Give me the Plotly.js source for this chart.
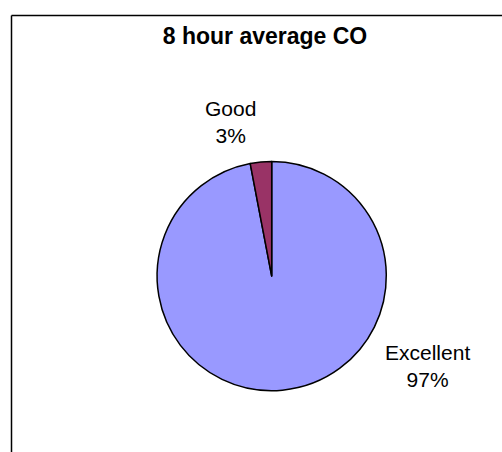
<!DOCTYPE html>
<html>
<head>
<meta charset="utf-8">
<script src="https://cdn.plot.ly/plotly-3.0.1.min.js"></script>
<style>html,body{margin:0;padding:0;background:#fff;}#chart{width:502px;height:452px;}</style>
</head>
<body>
<div id="chart"></div>
<script>
const chartTitle = "8 hour average CO";
const categories = ["Excellent", "Good"];
const values = [97, 3];
const colors = ["#9999FF", "#993366"];

const total = values.reduce((a, b) => a + b, 0);
const pct = values.map(v => Math.round(v / total * 100) + "%");

const W = 502, H = 452;
const cx = 271.7, cy = 276.1, r = 114.6;

const labelPos = [
  {x: 427, y: 366},
  {x: 230, y: 122}
];

const annotations = categories.map((c, i) => ({
  xref: "paper", yref: "paper",
  x: labelPos[i].x / W, y: 1 - labelPos[i].y / H,
  xanchor: "center", yanchor: "middle",
  text: c + "<br>" + pct[i],
  showarrow: false,
  font: {family: "Liberation Sans, Arial, sans-serif", size: 21, color: "#000"}
}));

const data = [{
  type: "pie",
  labels: categories,
  values: values,
  sort: false,
  direction: "clockwise",
  rotation: 0,
  textinfo: "none",
  hoverinfo: "label+percent",
  marker: {colors: colors, line: {color: "#000", width: 1.5}},
  domain: {x: [(cx - r) / W, (cx + r) / W], y: [1 - (cy + r) / H, 1 - (cy - r) / H]},
  showlegend: false
}];

const layout = {
  width: W, height: H,
  margin: {l: 0, r: 0, t: 0, b: 0},
  paper_bgcolor: "#fff",
  title: {
    text: "<b>" + chartTitle + "</b>",
    font: {family: "Liberation Sans, Arial, sans-serif", size: 23, color: "#000"},
    x: 265 / W, xanchor: "center",
    y: 1 - 36 / H, yanchor: "middle"
  },
  annotations: annotations,
  shapes: [
    {type: "line", xref: "paper", yref: "paper", x0: 11.5 / W, x1: 1.02, y0: 1 - 15.5 / H, y1: 1 - 15.5 / H, line: {color: "#000", width: 1.5}},
    {type: "line", xref: "paper", yref: "paper", x0: 11.5 / W, x1: 11.5 / W, y0: -0.02, y1: 1 - 15.5 / H, line: {color: "#000", width: 1.5}}
  ]
};

Plotly.newPlot("chart", data, layout, {displayModeBar: false, staticPlot: true});
</script>
</body>
</html>
